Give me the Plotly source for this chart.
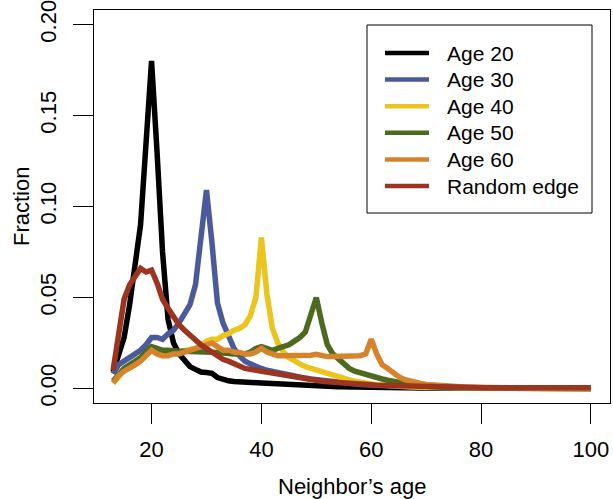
import plotly.graph_objects as go

ages = list(range(13, 101))

age20 = [0.009, 0.018, 0.028, 0.046, 0.066, 0.090, 0.135, 0.180, 0.130, 0.075,
         0.038, 0.025, 0.019, 0.015, 0.012, 0.0105, 0.009, 0.0088, 0.0083, 0.006,
         0.0048, 0.0042, 0.0038, 0.0035, 0.0033, 0.0031, 0.0030, 0.0030, 0.0028, 0.0026,
         0.0024, 0.0022, 0.0021, 0.0019, 0.0018, 0.0017, 0.0015, 0.0014, 0.0013, 0.0012,
         0.0011, 0.0010, 0.0009, 0.0008, 0.0008, 0.0007, 0.0006, 0.0006, 0.0005, 0.0005,
         0.0004, 0.0004, 0.0003, 0.0003, 0.0003, 0.0002, 0.0002, 0.0002, 0.0002, 0.0002,
         0.0001, 0.0001, 0.0001, 0.0001, 0.0001, 0.0001, 0.0001, 0.0001, 0.0001, 0.0001,
         0.0001, 0.0001, 0.0001, 0.0, 0.0, 0.0, 0.0, 0.0, 0.0, 0.0,
         0.0, 0.0, 0.0, 0.0, 0.0, 0.0, 0.0, 0.0]

age30 = [0.008, 0.013, 0.015, 0.017, 0.019, 0.021, 0.024, 0.028, 0.028, 0.027,
         0.030, 0.032, 0.036, 0.041, 0.046, 0.057, 0.083, 0.109, 0.080, 0.047,
         0.036, 0.028, 0.022, 0.018, 0.015, 0.0135, 0.012, 0.011, 0.010, 0.0093,
         0.0086, 0.0080, 0.0074, 0.0068, 0.0062, 0.0057, 0.0052, 0.0048, 0.0044, 0.0040,
         0.0037, 0.0034, 0.0031, 0.0028, 0.0025, 0.0022, 0.0020, 0.0018, 0.0016, 0.0014,
         0.0012, 0.0011, 0.0010, 0.0009, 0.0008, 0.0007, 0.0006, 0.0005, 0.0005, 0.0004,
         0.0004, 0.0003, 0.0003, 0.0003, 0.0002, 0.0002, 0.0002, 0.0002, 0.0001, 0.0001,
         0.0001, 0.0001, 0.0001, 0.0001, 0.0001, 0.0001, 0.0001, 0.0001, 0.0001, 0.0,
         0.0, 0.0, 0.0, 0.0, 0.0, 0.0, 0.0, 0.0]

age40 = [0.003, 0.007, 0.010, 0.012, 0.014, 0.016, 0.019, 0.022, 0.020, 0.019,
         0.019, 0.0195, 0.020, 0.0205, 0.021, 0.022, 0.024, 0.026, 0.027, 0.027,
         0.029, 0.030, 0.032, 0.033, 0.035, 0.040, 0.050, 0.083, 0.052, 0.033,
         0.025, 0.020, 0.017, 0.015, 0.0135, 0.012, 0.011, 0.0105, 0.0095, 0.0085,
         0.0075, 0.0065, 0.0056, 0.0047, 0.0040, 0.0033, 0.0028, 0.0024, 0.0020, 0.0017,
         0.0015, 0.0013, 0.0011, 0.0010, 0.0009, 0.0008, 0.0007, 0.0006, 0.0005, 0.0005,
         0.0004, 0.0004, 0.0003, 0.0003, 0.0003, 0.0002, 0.0002, 0.0002, 0.0002, 0.0001,
         0.0001, 0.0001, 0.0001, 0.0001, 0.0001, 0.0001, 0.0001, 0.0001, 0.0, 0.0,
         0.0, 0.0, 0.0, 0.0, 0.0, 0.0, 0.0, 0.0]

age50 = [0.004, 0.008, 0.011, 0.013, 0.015, 0.017, 0.020, 0.023, 0.022, 0.021,
         0.021, 0.0205, 0.0205, 0.0205, 0.0205, 0.0205, 0.0205, 0.020, 0.020, 0.0198,
         0.0195, 0.019, 0.019, 0.019, 0.019, 0.020, 0.022, 0.023, 0.022, 0.021,
         0.022, 0.023, 0.024, 0.026, 0.028, 0.031, 0.040, 0.050, 0.036, 0.024,
         0.019, 0.016, 0.013, 0.011, 0.0095, 0.0085, 0.0078, 0.0070, 0.0060, 0.0052,
         0.0045, 0.0038, 0.0030, 0.0025, 0.0020, 0.0016, 0.0013, 0.0010, 0.0009, 0.0008,
         0.0007, 0.0006, 0.0005, 0.0004, 0.0004, 0.0003, 0.0003, 0.0002, 0.0002, 0.0002,
         0.0002, 0.0001, 0.0001, 0.0001, 0.0001, 0.0001, 0.0001, 0.0001, 0.0001, 0.0001,
         0.0, 0.0, 0.0, 0.0, 0.0, 0.0, 0.0, 0.0]

age60 = [0.003, 0.007, 0.0095, 0.011, 0.013, 0.015, 0.018, 0.021, 0.019, 0.018,
         0.018, 0.019, 0.019, 0.020, 0.021, 0.022, 0.023, 0.024, 0.025, 0.023,
         0.021, 0.021, 0.020, 0.0198, 0.019, 0.019, 0.020, 0.022, 0.020, 0.019,
         0.018, 0.018, 0.018, 0.018, 0.018, 0.018, 0.0183, 0.0188, 0.018, 0.0175,
         0.0175, 0.0175, 0.0178, 0.018, 0.018, 0.018, 0.019, 0.027, 0.019, 0.013,
         0.011, 0.0085, 0.0065, 0.0050, 0.0040, 0.0033, 0.0027, 0.0022, 0.0019, 0.0016,
         0.0014, 0.0012, 0.0010, 0.0009, 0.0008, 0.0007, 0.0006, 0.0005, 0.0005, 0.0004,
         0.0004, 0.0003, 0.0003, 0.0003, 0.0002, 0.0002, 0.0002, 0.0002, 0.0001, 0.0001,
         0.0001, 0.0001, 0.0001, 0.0001, 0.0001, 0.0001, 0.0001, 0.0001]

random_edge = [0.010, 0.030, 0.049, 0.057, 0.061, 0.066, 0.064, 0.065, 0.058, 0.049,
               0.044, 0.039, 0.035, 0.032, 0.029, 0.026, 0.024, 0.022, 0.020, 0.018,
               0.016, 0.015, 0.0135, 0.012, 0.011, 0.0105, 0.010, 0.0095, 0.009, 0.0083,
               0.0076, 0.0070, 0.0063, 0.0058, 0.0054, 0.0050, 0.0046, 0.0043, 0.0040, 0.0037,
               0.0034, 0.0031, 0.0029, 0.0027, 0.0025, 0.0023, 0.0021, 0.0020, 0.0018, 0.0017,
               0.0016, 0.0015, 0.0013, 0.0012, 0.0011, 0.0010, 0.0009, 0.0008, 0.0008, 0.0007,
               0.0007, 0.0006, 0.0006, 0.0005, 0.0005, 0.0005, 0.0005, 0.0004, 0.0004, 0.0004,
               0.0004, 0.0004, 0.0004, 0.0004, 0.0004, 0.0004, 0.0004, 0.0004, 0.0004, 0.0004,
               0.0004, 0.0004, 0.0004, 0.0004, 0.0004, 0.0004, 0.0004, 0.0004]

series_names = ["Age 20", "Age 30", "Age 40", "Age 50", "Age 60", "Random edge"]
series_values = [age20, age30, age40, age50, age60, random_edge]
series_colors = ["#000000", "#4B5A9B", "#EBC41C", "#4D6A1F", "#D6842C", "#9C3420"]

x_ticks = [20, 40, 60, 80, 100]
y_ticks = [0.0, 0.05, 0.10, 0.15, 0.20]
y_ticktext = ["0.00", "0.05", "0.10", "0.15", "0.20"]

FONT = "Liberation Sans, Arial, Helvetica, sans-serif"

W, H = 613, 499
ML, MR, MT, MB = 94, 3, 10, 96
PW, PH = W - ML - MR, H - MT - MB


def px(xp):
    return (xp - ML) / PW


def py(yp):
    return (H - MB - yp) / PH


fig = go.Figure()
for name, vals, col in zip(series_names, series_values, series_colors):
    fig.add_trace(go.Scatter(x=ages, y=vals, mode="lines", name=name,
                             line=dict(color=col, width=5.5), showlegend=False))

# Legend (drawn manually to match the reference spacing)
shapes = [dict(type="rect", xref="paper", yref="paper",
               x0=px(367), x1=px(592), y0=py(213), y1=py(25),
               line=dict(color="black", width=1), fillcolor="white", layer="above")]
annotations = []
for i, (name, col) in enumerate(zip(series_names, series_colors)):
    row_y = 53 + 26.6 * i
    shapes.append(dict(type="line", xref="paper", yref="paper",
                       x0=px(385), x1=px(429), y0=py(row_y), y1=py(row_y),
                       line=dict(color=col, width=4.5), layer="above"))
    annotations.append(dict(text=name, xref="paper", yref="paper",
                            x=px(445), y=py(row_y), xanchor="left", yanchor="middle",
                            showarrow=False,
                            font=dict(family=FONT, size=21, color="black")))

annotations.append(dict(text="Neighbor’s age", xref="paper", yref="paper",
                        x=px(352), y=py(486), xanchor="center", yanchor="middle",
                        showarrow=False, font=dict(family=FONT, size=22, color="black")))
annotations.append(dict(text="Fraction", xref="paper", yref="paper",
                        x=px(21), y=py(207), xanchor="center", yanchor="middle",
                        textangle=-90, showarrow=False,
                        font=dict(family=FONT, size=22, color="black")))

fig.update_layout(
    width=W, height=H,
    margin=dict(l=ML, r=MR, t=MT, b=MB, autoexpand=False),
    paper_bgcolor="white", plot_bgcolor="white",
    font=dict(family=FONT, color="black", size=22),
    showlegend=False,
    shapes=shapes, annotations=annotations,
)
fig.update_xaxes(
    range=[9.52, 103.48], tickvals=x_ticks, ticks="outside", ticklen=20,
    tickwidth=1, tickcolor="black", showline=True, mirror=True,
    linecolor="black", linewidth=1, showgrid=False, zeroline=False,
    tickfont=dict(size=22), ticklabelstandoff=7, automargin=False,
    ticklabeloverflow="allow",
)
fig.update_yaxes(
    range=[-0.008, 0.208], tickvals=y_ticks, ticktext=y_ticktext,
    tickangle=-90, ticks="outside", ticklen=20,
    tickwidth=1, tickcolor="black", showline=True, mirror=True,
    linecolor="black", linewidth=1, showgrid=False, zeroline=False,
    tickfont=dict(size=22), ticklabelstandoff=8, automargin=False,
    ticklabeloverflow="allow",
)

fig.write_html(
    "out.html",
    config={"displayModeBar": False},
    post_script="document.body.style.margin='0';document.body.style.padding='0';",
)
